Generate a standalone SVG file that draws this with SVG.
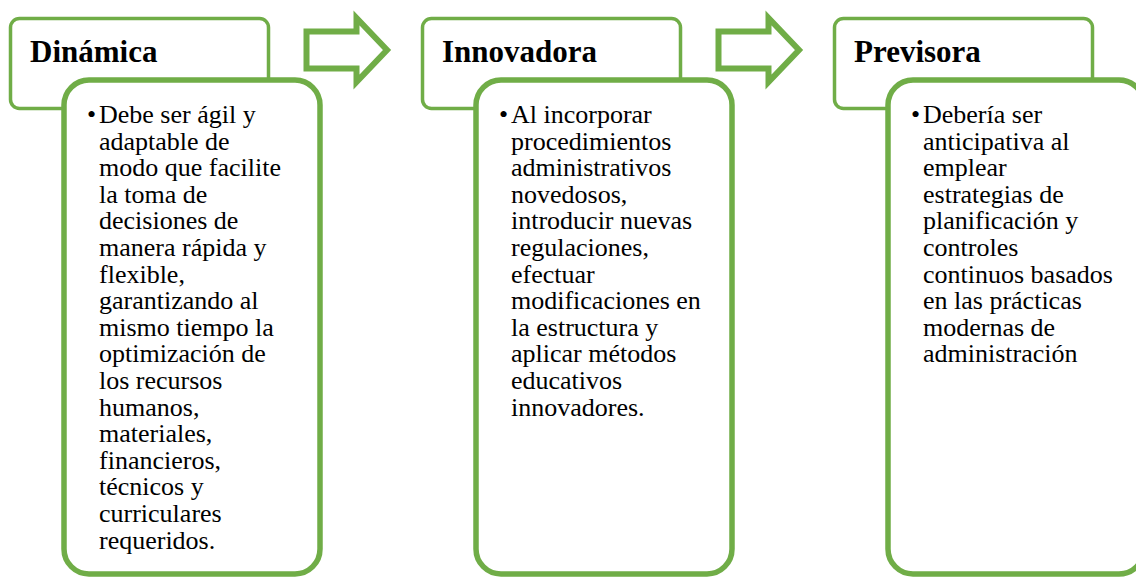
<svg xmlns="http://www.w3.org/2000/svg" width="1136" height="577" viewBox="0 0 1136 577">
<style>
.hdr{fill:#fff;stroke:#70AD47;stroke-width:3.5}
.body{fill:#fff;stroke:#70AD47;stroke-width:5.5}
.arr{fill:#fff;stroke:#70AD47;stroke-width:6;stroke-linejoin:miter}
.ht{font-family:'Liberation Serif',serif;font-weight:bold;font-size:31px;fill:#000}
.bt{font-family:'Liberation Serif',serif;font-size:26px;fill:#000}
</style>
<rect width="1136" height="577" fill="#fff"/>
<g id="connectors">
<path class="arr" d="M306.5,31.5 H356.5 V18 L387,50 L356.5,82 V68.5 H306.5 Z"/>
<path class="arr" d="M718.5,31.5 H768.5 V18 L799,50 L768.5,82 V68.5 H718.5 Z"/>
</g>
<g id="node-dinamica">
<rect class="hdr" x="10.5" y="18.5" width="258" height="90" rx="9"/>
<text class="ht" x="30" y="62" style="font-family:'Liberation Serif',serif">Dinámica</text>
<rect class="body" x="64" y="80" width="256" height="494" rx="25"/>
<text class="bt" x="87" y="123" style="font-family:'Liberation Serif',serif">•</text>
<text class="bt" x="99" y="123" style="font-family:'Liberation Serif',serif"><tspan x="99" y="123">Debe ser ágil y</tspan><tspan x="99" y="149.6">adaptable de</tspan><tspan x="99" y="176.2">modo que facilite</tspan><tspan x="99" y="202.8">la toma de</tspan><tspan x="99" y="229.4">decisiones de</tspan><tspan x="99" y="256">manera rápida y</tspan><tspan x="99" y="282.6">flexible,</tspan><tspan x="99" y="309.2">garantizando al</tspan><tspan x="99" y="335.8">mismo tiempo la</tspan><tspan x="99" y="362.4">optimización de</tspan><tspan x="99" y="389">los recursos</tspan><tspan x="99" y="415.6">humanos,</tspan><tspan x="99" y="442.2">materiales,</tspan><tspan x="99" y="468.8">financieros,</tspan><tspan x="99" y="495.4">técnicos y</tspan><tspan x="99" y="522">curriculares</tspan><tspan x="99" y="548.6">requeridos.</tspan></text>
</g>
<g id="node-innovadora">
<rect class="hdr" x="422.5" y="18.5" width="258" height="90" rx="9"/>
<text class="ht" x="442" y="62" style="font-family:'Liberation Serif',serif">Innovadora</text>
<rect class="body" x="476" y="80" width="256" height="494" rx="25"/>
<text class="bt" x="499" y="123" style="font-family:'Liberation Serif',serif">•</text>
<text class="bt" x="511" y="123" style="font-family:'Liberation Serif',serif"><tspan x="511" y="123">Al incorporar</tspan><tspan x="511" y="149.6">procedimientos</tspan><tspan x="511" y="176.2">administrativos</tspan><tspan x="511" y="202.8">novedosos,</tspan><tspan x="511" y="229.4">introducir nuevas</tspan><tspan x="511" y="256">regulaciones,</tspan><tspan x="511" y="282.6">efectuar</tspan><tspan x="511" y="309.2">modificaciones en</tspan><tspan x="511" y="335.8">la estructura y</tspan><tspan x="511" y="362.4">aplicar métodos</tspan><tspan x="511" y="389">educativos</tspan><tspan x="511" y="415.6">innovadores.</tspan></text>
</g>
<g id="node-previsora">
<rect class="hdr" x="834.5" y="18.5" width="258" height="90" rx="9"/>
<text class="ht" x="854" y="62" style="font-family:'Liberation Serif',serif">Previsora</text>
<rect class="body" x="888" y="80" width="256" height="494" rx="25"/>
<text class="bt" x="911" y="123" style="font-family:'Liberation Serif',serif">•</text>
<text class="bt" x="923" y="123" style="font-family:'Liberation Serif',serif"><tspan x="923" y="123">Debería ser</tspan><tspan x="923" y="149.6">anticipativa al</tspan><tspan x="923" y="176.2">emplear</tspan><tspan x="923" y="202.8">estrategias de</tspan><tspan x="923" y="229.4">planificación y</tspan><tspan x="923" y="256">controles</tspan><tspan x="923" y="282.6">continuos basados</tspan><tspan x="923" y="309.2">en las prácticas</tspan><tspan x="923" y="335.8">modernas de</tspan><tspan x="923" y="362.4">administración</tspan></text>
</g>
</svg>
